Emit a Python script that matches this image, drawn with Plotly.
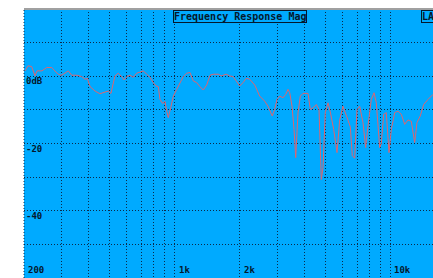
import plotly.graph_objects as go
import math

# Frequency response (Hz, dB)
freq_hz = [202, 209, 217, 220, 225, 230, 242, 255, 269, 278, 288, 299, 310, 321, 333, 351, 370, 384, 393, 405,
           427, 450, 475, 492, 506, 528, 547, 568, 582, 599, 620, 642, 666, 690, 715, 741, 768, 795, 819, 839,
           854, 879, 901, 918, 933, 958, 985, 1021, 1058, 1095, 1136, 1177, 1219, 1264, 1309, 1356, 1406, 1457,
           1509, 1592, 1643, 1733, 1797, 1862, 1929, 2000, 2072, 2147, 2226, 2348, 2476, 2612, 2705, 2832, 2906,
           2978, 3066, 3176, 3269, 3350, 3412, 3497, 3572, 3638, 3728, 3821, 3932, 4148, 4251, 4375, 4532, 4665,
           4780, 4868, 4988, 5134, 5261, 5456, 5652, 5817, 6026, 6242, 6514, 6654, 6827, 6997, 7200, 7459, 7676,
           7867, 8150, 8390, 8598, 8914, 9069, 9305, 9568, 9848, 10092, 10464, 10840, 11230, 11642, 12060, 12492,
           12952, 13274, 13752, 14258, 14928, 15464, 15748, 16500]
mag_db = [1.6, 3.1, 2.9, 1.6, 0.1, 1.6, 1.6, 2.6, 2.6, 1.6, 0.6, 0.3, 1.1, 1.6, 0.3, 0.3, -0.1, -0.9, -0.6, -3.1,
          -4.4, -5.2, -4.7, -4.4, -5.1, 0.1, 0.9, -0.1, -1.1, -0.1, 0.3, -0.3, 0.9, 1.3, 1.6, 0.6, -0.3, -1.9, -2.9, -3.1,
          -6.9, -8.1, -7.5, -10.4, -12.3, -9.3, -5.9, -3.9, -1.9, -0.1, 0.9, 1.1, -1.4, -1.9, -3.1, -4.1, -2.6, 0.3,
          0.6, 0.6, 0.1, 0.6, 0.1, -0.1, -1.4, -2.9, -1.9, -0.6, -0.9, -2.6, -5.9, -7.4, -8.9, -11.8, -9.9,
          -6.9, -5.9, -6.4, -5.4, -3.9, -4.9, -8.9, -15.8, -24.2, -10.8, -5.9, -5.1, -5.1, -9.9, -9.4, -8.4, -9.9,
          -30.7, -27.2, -10.8, -7.9, -10.6, -15.8, -22.7, -13.0, -8.9, -11.8, -15.0, -23.6, -24.4, -9.9, -8.9, -13.8, -21.2,
          -14.8, -6.9, -4.9, -7.9, -21.2, -20.0, -11.3, -10.8, -22.7, -15.8, -10.8, -10.4, -11.3, -14.3, -13.0, -13.4,
          -19.7, -13.8, -11.8, -8.4, -6.9, -5.9, -5.4, -4.5]

grid_freqs = [200, 300, 400, 500, 600, 700, 800, 900, 1000, 2000, 3000, 4000, 5000, 6000, 7000, 8000, 9000,
              10000, 20000]
grid_db = [-60, -50, -40, -30, -20, -10, 0, 10, 20]
db_labels = [(0, "0dB"), (-20, "-20"), (-40, "-40")]
freq_labels = [(200, "200"), (1000, "1k"), (2000, "2k"), (10000, "10k")]

x_min, x_max = 200, 15750
y_min, y_max = -60, 20

fig = go.Figure()
fig.add_trace(go.Scatter(x=freq_hz, y=mag_db, mode="lines",
                         line=dict(color="#e0646e", width=1), hoverinfo="skip"))

grid_col = "#0a2a4a"
fig.update_xaxes(type="log", range=[math.log10(x_min), math.log10(x_max)],
                 tickvals=grid_freqs, showticklabels=False, ticks="",
                 showgrid=True, gridcolor=grid_col, gridwidth=1, griddash="1px,2px",
                 zeroline=False, showline=False)
fig.update_yaxes(range=[y_min, y_max], tickvals=grid_db, showticklabels=False, ticks="",
                 showgrid=True, gridcolor=grid_col, gridwidth=1, griddash="1px,2px",
                 zeroline=False, showline=False)

lab_font = dict(family="DejaVu Sans Mono", size=9, color="#04182c")
annotations = []
for v, t in db_labels:
    annotations.append(dict(x=0, xref="paper", y=v, yref="y", text="<b>%s</b>" % t,
                            xanchor="left", yanchor="top", xshift=0, yshift=2,
                            showarrow=False, font=lab_font))
for f, t in freq_labels:
    annotations.append(dict(x=math.log10(f), xref="x", y=0, yref="paper", text="<b>%s</b>" % t,
                            xanchor="left", yanchor="bottom", xshift=2, yshift=1,
                            showarrow=False, font=lab_font))
annotations.append(dict(x=0.527, xref="paper", y=1, yref="paper",
                        text="<b>Frequency Response Mag</b>", xanchor="center", yanchor="top",
                        yshift=-1, showarrow=False,
                        font=dict(family="DejaVu Sans Mono", size=10, color="#04182c"),
                        bordercolor="#04182c", borderwidth=1, borderpad=0, bgcolor="#00aaff"))
annotations.append(dict(x=1, xref="paper", y=1, yref="paper", text="<b>LA</b>",
                        xanchor="left", yanchor="top", xshift=-12, yshift=-1, showarrow=False,
                        font=dict(family="DejaVu Sans Mono", size=10, color="#04182c"),
                        bordercolor="#04182c", borderwidth=1, borderpad=0, bgcolor="#00aaff"))

fig.update_layout(
    width=433, height=278,
    margin=dict(l=24, r=0, t=9, b=0),
    paper_bgcolor="white", plot_bgcolor="#00aaff",
    showlegend=False,
    hovermode=False,
    annotations=annotations,
    shapes=[dict(type="line", xref="paper", yref="paper", x0=0, x1=1, y0=1, y1=1,
                 line=dict(color="#a0a0a0", width=2)),
            dict(type="line", xref="paper", yref="paper", x0=0, x1=0, y0=0, y1=1,
                 line=dict(color=grid_col, width=1, dash="1px,2px"))],
)

# remove the default page margin so the figure sits at the window's top-left corner
fig.write_html("out.html",
               config={"displayModeBar": False},
               post_script="document.body.style.margin='0';document.body.style.overflow='hidden';")
